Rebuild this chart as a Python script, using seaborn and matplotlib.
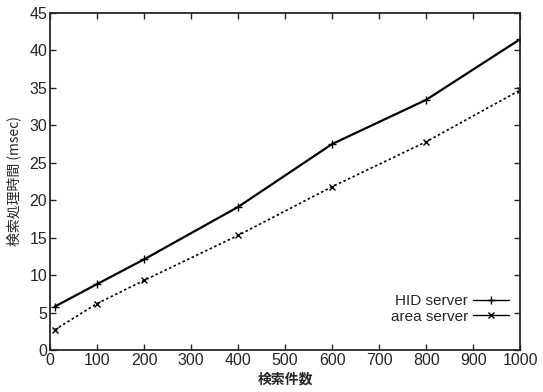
import matplotlib
matplotlib.use("Agg")
import matplotlib.pyplot as plt
import seaborn as sns
import pandas as pd

# values
searches = [10, 100, 200, 400, 600, 800, 1000]
hid_server = [5.8, 8.8, 12.1, 19.1, 27.5, 33.4, 41.5]
area_server = [2.7, 6.2, 9.3, 15.3, 21.8, 27.8, 34.7]
series_names = ["HID server", "area server"]

sns.set_style("ticks")
plt.rcParams["font.family"] = ["Liberation Sans", "Noto Sans CJK JP", "DejaVu Sans"]

df = pd.DataFrame({
    "n": searches * 2,
    "t": hid_server + area_server,
    "s": [series_names[0]] * len(searches) + [series_names[1]] * len(searches),
})

fig = plt.figure(figsize=(5.43, 3.92), dpi=100)
ax = fig.add_axes([0.092, 0.107, 0.866, 0.860])

sns.lineplot(data=df[df.s == series_names[0]], x="n", y="t", ax=ax,
             color="black", lw=1.6, marker="+", markersize=6, mew=1.0,
             mec="black", label=series_names[0])
sns.lineplot(data=df[df.s == series_names[1]], x="n", y="t", ax=ax,
             color="black", lw=1.2, ls=(0, (1.5, 1.5)), marker="x",
             markersize=4, mew=1.0, mec="black", label=series_names[1])

ax.set_xlim(0, 1000)
ax.set_ylim(0, 45)
ax.set_xticks(range(0, 1001, 100))
ax.set_yticks(range(0, 46, 5))
ax.tick_params(direction="in", top=True, right=True, length=4, width=1,
               labelsize=11.5, pad=2)
for sp in ax.spines.values():
    sp.set_linewidth(1.3)
    sp.set_visible(True)

ax.set_xlabel("検索件数", family=["Noto Sans CJK JP"], fontsize=10,
              fontweight="bold", labelpad=3)
ax.set_ylabel("検索処理時間 (msec)", family=["Noto Sans CJK JP", "DejaVu Sans"],
              fontsize=10, labelpad=6)

leg = ax.legend(loc="lower right", bbox_to_anchor=(0.99, 0.06), frameon=False,
                markerfirst=False, fontsize=11, handlelength=2.4,
                handletextpad=0.3, labelspacing=0.1, borderaxespad=0)
for h in leg.get_lines():
    h.set_linewidth(1.0)
    h.set_linestyle("-")

fig.savefig("out.png", dpi=100)
